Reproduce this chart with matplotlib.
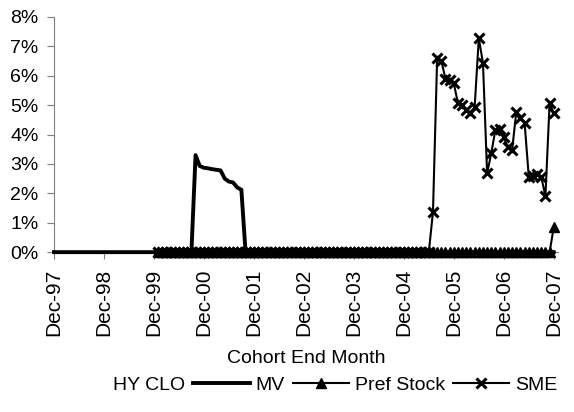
import numpy as np
import pandas as pd
import matplotlib
matplotlib.use("Agg")
import matplotlib.pyplot as plt
from matplotlib.ticker import FuncFormatter

plt.rcParams['font.family'] = ['Liberation Sans', 'DejaVu Sans']
plt.rcParams['font.size'] = 14

# monthly cohorts Dec-97 .. Dec-07
months = pd.date_range("1997-12-01", "2007-12-01", freq="MS")
tick_labels = ["Dec-97", "Dec-98", "Dec-99", "Dec-00", "Dec-01", "Dec-02",
               "Dec-03", "Dec-04", "Dec-05", "Dec-06", "Dec-07"]

# values in percent
hy_clo = [0.0] * 121

mv = ([0.0] * 34 +
      [3.3, 2.93, 2.87, 2.85, 2.82, 2.8, 2.78, 2.5, 2.4, 2.37, 2.2, 2.12] +
      [0.0] * 75)

# preferred stock starts Jan-00
pref_stock = [0.0] * 95 + [0.85]

# SME starts Jan-00
sme = ([0.0] * 66 +
       [1.37, 6.59, 6.5, 5.9, 5.85, 5.74, 5.06, 5.0, 4.83, 4.72,
        4.92, 7.27, 6.44, 2.68, 3.37, 4.17, 4.2, 3.9, 3.57, 3.47,
        4.77, 4.55, 4.4, 2.56, 2.6, 2.66, 2.56, 1.9, 5.07, 4.72])

x_all = np.arange(len(months))
x_late = x_all[25:]

fig = plt.figure(figsize=(5.74, 4.12), dpi=100)
ax = fig.add_axes([0.094, 0.388, 0.878, 0.571])

h0, = ax.plot(x_all, hy_clo, color="black", lw=0, label="HY CLO")
h1, = ax.plot(x_all, mv, color="black", lw=2.8, solid_joinstyle="round",
              label="MV", zorder=3, clip_on=False)
h2, = ax.plot(x_late, pref_stock, color="black", lw=1.5, marker="^", ms=6.5,
              label="Pref Stock", zorder=4, clip_on=False)
h3, = ax.plot(x_late, sme, color="black", lw=1.5, marker="x", ms=7, mew=2.2,
              label="SME", zorder=5, clip_on=False)

ax.set_xlim(0, 121)
ax.set_ylim(0, 8)
ax.set_yticks(range(0, 9))
ax.yaxis.set_major_formatter(FuncFormatter(lambda v, p: f"{int(v)}%"))
ax.set_xticks(np.arange(0, 121, 12))
ax.set_xticklabels(tick_labels, rotation=90)

for s in ["top", "right"]:
    ax.spines[s].set_visible(False)
for s in ["left", "bottom"]:
    ax.spines[s].set_color("#808080")
ax.tick_params(axis="both", direction="out", length=5, color="#808080",
               labelsize=14)
ax.tick_params(axis="x", pad=7, labelsize=15)
ax.tick_params(axis="y", pad=6)

ax.set_xlabel("Cohort End Month", fontsize=14, labelpad=10)

fig.legend([h0, h1, h2, h3], ["HY CLO", "MV", "Pref Stock", "SME"],
           loc="center", bbox_to_anchor=(0.53, 0.066), ncol=4, frameon=False,
           handlelength=2.9, handletextpad=0.3, columnspacing=0.4,
           fontsize=14)

fig.savefig("out.png", dpi=100)
